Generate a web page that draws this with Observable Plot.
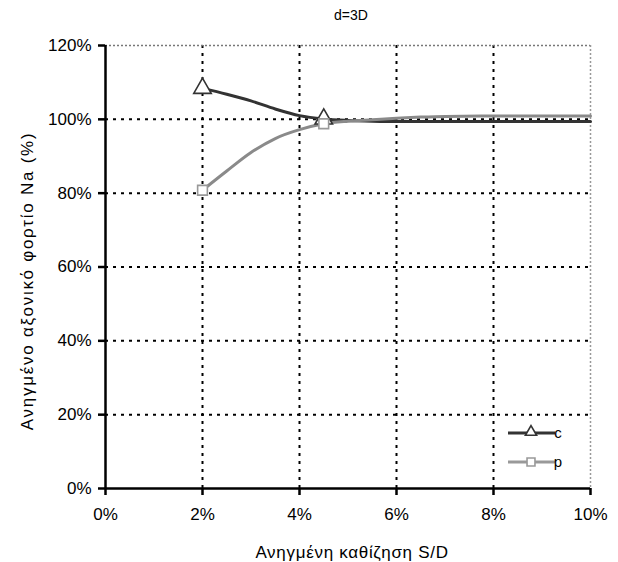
<!DOCTYPE html>
<html>
<head>
<meta charset="utf-8">
<script src="https://cdn.jsdelivr.net/npm/d3@7"></script>
<script src="https://cdn.jsdelivr.net/npm/@observablehq/plot@0.6"></script>
<style>
  html, body { margin: 0; padding: 0; background: #fff; }
  #chart { width: 618px; height: 562px; }
  .xlab text { letter-spacing: 0.7px; }
  .ylab text { letter-spacing: 1.75px; }
</style>
</head>
<body>
<div id="chart"></div>
<script>
const title = "d=3D";
const xLabel = "Ανηγμένη καθίζηση S/D";
const yLabel = "Ανηγμένο αξονικό φορτίο Na (%)";
const xTicks = [0, 2, 4, 6, 8, 10];
const yTicks = [0, 20, 40, 60, 80, 100, 120];
const seriesNames = ["c", "p"];

// S/D (%) sample positions along the curves
const sd = [2, 2.5, 3, 3.5, 4, 4.5, 5, 5.5, 6, 6.5, 7, 8, 9, 10];
const cValues = [108.4, 106.8, 105.0, 102.8, 101.0, 100.1, 99.7, 99.5, 99.4, 99.4, 99.4, 99.4, 99.4, 99.4];
const pValues = [80.8, 86.0, 91.0, 94.8, 97.2, 98.8, 99.5, 99.9, 100.3, 100.6, 100.8, 100.9, 100.9, 100.9];
// points carrying markers
const markerSD = [2, 4.5];

const colors = {c: "#333333", p: "#8a8a8a"};
const markerStroke = {c: "#333333", p: "#999999"};

const rows = [];
sd.forEach((x, i) => {
  rows.push({series: "c", x, y: cValues[i]});
  rows.push({series: "p", x, y: pValues[i]});
});
const cMarkers = rows.filter(d => d.series === "c" && markerSD.includes(d.x));
const pMarkers = rows.filter(d => d.series === "p" && markerSD.includes(d.x));

const W = 618, H = 562;
const mL = 105, mR = 28, mT = 45, mB = 74;
const font = "'Liberation Sans', Arial, sans-serif";

const plot = Plot.plot({
  width: W,
  height: H,
  marginLeft: mL,
  marginRight: mR,
  marginTop: mT,
  marginBottom: mB,
  style: {fontFamily: font, fontSize: "17px", color: "#000", background: "#fff"},
  x: {domain: [0, 10]},
  y: {domain: [0, 120]},
  marks: [
    // grid
    Plot.ruleX(xTicks.filter(t => t > 0 && t < 10), {stroke: "#000", strokeWidth: 2, strokeDasharray: "3,5"}),
    Plot.ruleY(yTicks.filter(t => t > 0 && t < 120), {stroke: "#000", strokeWidth: 2, strokeDasharray: "3,5"}),
    Plot.ruleY([120], {stroke: "#777", strokeWidth: 1.5, strokeDasharray: "2,2"}),
    Plot.ruleX([10], {stroke: "#999", strokeWidth: 1.5, strokeDasharray: "2,2"}),
    // axes lines and ticks
    Plot.axisX({ticks: xTicks, tickSize: 7, tickFormat: () => "", stroke: "#000", strokeWidth: 2.5, label: null}),
    Plot.axisY({ticks: yTicks, tickSize: 7, tickFormat: () => "", stroke: "#000", strokeWidth: 2.5, label: null}),
    Plot.ruleX([0], {stroke: "#000", strokeWidth: 2.5}),
    Plot.ruleY([0], {stroke: "#000", strokeWidth: 2.5}),
    // tick labels
    Plot.text(xTicks, {x: d => d, frameAnchor: "bottom", dy: 26, lineAnchor: "middle", text: d => d + "%", fontSize: 17, fill: "#000"}),
    Plot.text(yTicks, {y: d => d, frameAnchor: "left", dx: -14, textAnchor: "end", lineAnchor: "middle", text: d => d + "%", fontSize: 17, fill: "#000"}),
    // lines
    Plot.line(rows, {x: "x", y: "y", z: "series", stroke: d => colors[d.series], strokeWidth: 3, curve: "monotone-x"}),
    Plot.dot(cMarkers, {x: "x", y: "y", symbol: "triangle", r: 6.5, fill: "#fff", stroke: markerStroke.c, strokeWidth: 1.6}),
    Plot.dot(pMarkers, {x: "x", y: "y", symbol: "square", r: 5.5, fill: "#fff", stroke: markerStroke.p, strokeWidth: 1.6}),
    // titles
    Plot.text([title], {frameAnchor: "top", dx: 3, dy: -26, lineAnchor: "bottom", fontSize: 14, fill: "#000"}),
    Plot.text([xLabel], {className: "xlab", frameAnchor: "bottom", dx: 4, dy: 69, lineAnchor: "bottom", fontSize: 17, fill: "#000"}),
    Plot.text([yLabel], {className: "ylab", frameAnchor: "left", textAnchor: "middle", rotate: -90, dx: -78, dy: 14, fontSize: 17, fill: "#000"})
  ]
});

// legend inside plot area, bottom right
const svg = d3.select(plot);
const lg = svg.append("g").attr("font-family", font).attr("font-size", 15);
const legendRows = [
  {name: seriesNames[0], y: 433},
  {name: seriesNames[1], y: 462}
];
legendRows.forEach(r => {
  lg.append("line").attr("x1", 508).attr("x2", 555).attr("y1", r.y).attr("y2", r.y)
    .attr("stroke", r.name === "c" ? colors.c : "#999").attr("stroke-width", 3);
  const sym = d3.symbol().type(r.name === "c" ? d3.symbolTriangle2 : d3.symbolSquare2).size(r.name === "c" ? 90 : 80);
  lg.append("path").attr("d", sym()).attr("transform", `translate(531,${r.y - (r.name === "c" ? 1 : 0)})`)
    .attr("fill", "#fff").attr("stroke", markerStroke[r.name]).attr("stroke-width", 1.6);
  lg.append("text").attr("x", 558).attr("y", r.y).attr("dy", "0.32em").attr("fill", "#000").text(r.name);
});

document.getElementById("chart").appendChild(plot);
</script>
</body>
</html>
